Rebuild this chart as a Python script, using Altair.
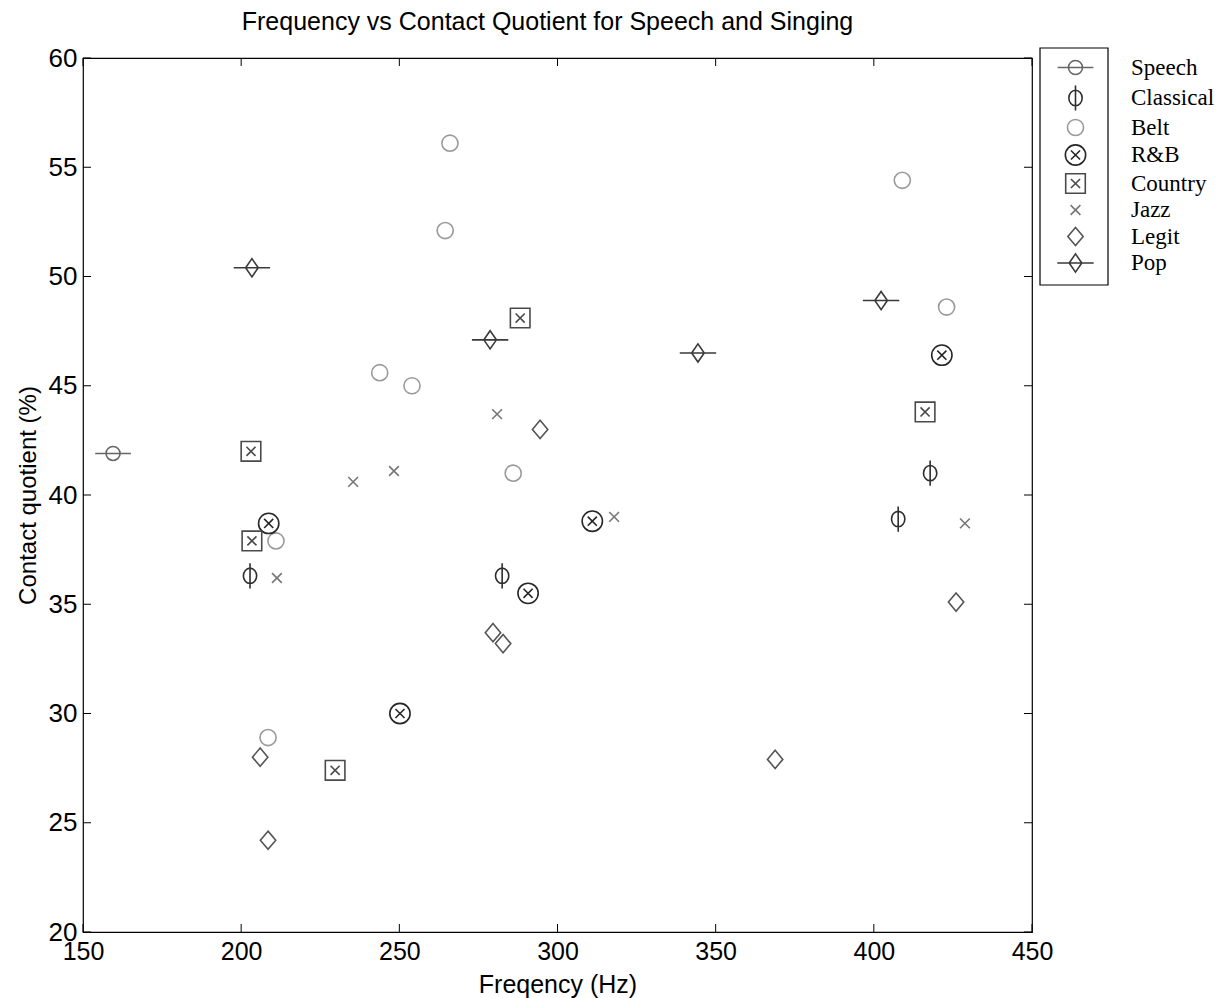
import altair as alt
import pandas as pd

# ---- data ----
speech_x = [159.5]
speech_y = [41.9]
classical_x = [202.8, 282.5, 407.7, 417.8]
classical_y = [36.3, 36.3, 38.9, 41.0]
belt_x = [266.0, 264.5, 243.8, 254.0, 286.0, 211.0, 208.5, 409.0, 423.0]
belt_y = [56.1, 52.1, 45.6, 45.0, 41.0, 37.9, 28.9, 54.4, 48.6]
rnb_x = [208.7, 250.2, 290.7, 311.0, 421.5]
rnb_y = [38.7, 30.0, 35.5, 38.8, 46.4]
country_x = [203.1, 203.4, 229.7, 288.2, 416.2]
country_y = [42.0, 37.9, 27.4, 48.1, 43.8]
jazz_x = [211.3, 235.4, 248.3, 280.9, 317.9, 428.8]
jazz_y = [36.2, 40.6, 41.1, 43.7, 39.0, 38.7]
legit_x = [294.5, 279.6, 282.8, 206.0, 208.5, 368.8, 426.0]
legit_y = [43.0, 33.7, 33.2, 28.0, 24.2, 27.9, 35.1]
pop_x = [203.4, 278.7, 344.4, 402.3]
pop_y = [50.4, 47.1, 46.5, 48.9]

series_order = ["Speech", "Classical", "Belt", "R&B", "Country", "Jazz", "Legit", "Pop"]
x_ticks = [150, 200, 250, 300, 350, 400, 450]
y_ticks = [20, 25, 30, 35, 40, 45, 50, 55, 60]

series_data = {
    "Speech": (speech_x, speech_y),
    "Classical": (classical_x, classical_y),
    "Belt": (belt_x, belt_y),
    "R&B": (rnb_x, rnb_y),
    "Country": (country_x, country_y),
    "Jazz": (jazz_x, jazz_y),
    "Legit": (legit_x, legit_y),
    "Pop": (pop_x, pop_y),
}
rows = []
for name in series_order:
    xs, ys = series_data[name]
    for a, b in zip(xs, ys):
        rows.append({"freq": a, "cq": b, "series": name})
df = pd.DataFrame(rows)

# ---- marker paths (unit = sqrt(size)/2 px) ----
def circ(rx, ry=None):
    ry = rx if ry is None else ry
    return f"M{-rx},0A{rx},{ry},0,1,1,{rx},0A{rx},{ry},0,1,1,{-rx},0Z"

def xmark(s):
    return f"M{-s},{-s}L{s},{s}M{-s},{s}L{s},{-s}"

shapes = [
    circ(1.0) + "M-2.55,0L2.55,0",                      # Speech
    circ(0.95, 1.1) + "M0,-1.8L0,1.8",                  # Classical
    circ(1.15),                                          # Belt
    circ(1.45) + xmark(0.65),                            # R&B
    "M-1.4,-1.4L1.4,-1.4L1.4,1.4L-1.4,1.4Z" + xmark(0.65),  # Country
    xmark(0.7),                                          # Jazz
    "M0,-1.3L1.1,0L0,1.3L-1.1,0Z",                       # Legit
    "M0,-1.3L0.9,0L0,1.3L-0.9,0ZM-2.6,0L2.6,0",          # Pop
]
colors = ["#666666", "#2e2e2e", "#9a9a9a", "#262626", "#4a4a4a", "#777777", "#555555", "#3a3a3a"]

W, H = 949, 874
xscale = alt.Scale(domain=[150, 450], nice=False, zero=False)
yscale = alt.Scale(domain=[20, 60], nice=False, zero=False)

leg = dict(title=None, orient="none", legendX=981, legendY=-2,
           labelFont="Liberation Serif", labelFontSize=23, labelColor="black",
           labelOffset=44, symbolSize=196, symbolStrokeWidth=1.6, rowPadding=1.5,
           padding=0, symbolFillColor="transparent", labelLimit=200)

points = alt.Chart(df).mark_point(filled=False, size=196, strokeWidth=1.6, opacity=1).encode(
    x=alt.X("freq:Q", scale=xscale,
            axis=alt.Axis(title="Freqency (Hz)", values=x_ticks, grid=False, ticks=False,
                          domain=False, labelFlush=False, labelPadding=7, titlePadding=8,
                          labelFontSize=25, titleFontSize=25)),
    y=alt.Y("cq:Q", scale=yscale,
            axis=alt.Axis(title="Contact quotient (%)", values=y_ticks, grid=False, ticks=False,
                          domain=False, labelFlush=False, labelPadding=6, titlePadding=8,
                          labelFontSize=26, titleFontSize=24)),
    shape=alt.Shape("series:N", scale=alt.Scale(domain=series_order, range=shapes),
                    legend=alt.Legend(**leg)),
    stroke=alt.Stroke("series:N", scale=alt.Scale(domain=series_order, range=colors),
                      legend=alt.Legend(**leg)),
)

xt = pd.DataFrame({"v": x_ticks})
yt = pd.DataFrame({"v": y_ticks})

tick_bottom = alt.Chart(xt).mark_rule(color="black", strokeWidth=1).encode(
    x=alt.X("v:Q", scale=xscale), y=alt.value(H), y2=alt.value(H - 8))
tick_top = alt.Chart(xt).mark_rule(color="black", strokeWidth=1).encode(
    x=alt.X("v:Q", scale=xscale), y=alt.value(0), y2=alt.value(8))
tick_left = alt.Chart(yt).mark_rule(color="black", strokeWidth=1).encode(
    y=alt.Y("v:Q", scale=yscale), x=alt.value(0), x2=alt.value(8))
tick_right = alt.Chart(yt).mark_rule(color="black", strokeWidth=1).encode(
    y=alt.Y("v:Q", scale=yscale), x=alt.value(W), x2=alt.value(W - 8))

box = alt.Chart(pd.DataFrame({"k": [0]})).mark_rect(
    filled=False, stroke="black", strokeWidth=1.2
).encode(x=alt.value(957), x2=alt.value(1025), y=alt.value(-10), y2=alt.value(227))

chart = alt.layer(points, tick_bottom, tick_top, tick_left, tick_right, box).properties(
    width=W, height=H, background="white",
    title=alt.TitleParams("Frequency vs Contact Quotient for Speech and Singing",
                          fontSize=25, font="Liberation Sans", fontWeight="normal",
                          anchor="middle", dx=-10, offset=10, color="black"),
    autosize=alt.AutoSizeParams(type="none"),
    padding={"left": 83, "top": 58, "right": 186, "bottom": 66},
).resolve_scale(shape="shared", stroke="shared").configure_view(
    stroke="black", strokeWidth=1.2
).configure_axis(
    labelFont="Liberation Sans", titleFont="Liberation Sans", labelColor="black",
    titleColor="black", titleFontWeight="normal"
)

chart.save("out.html", embed_options={"renderer": "svg", "actions": False})
